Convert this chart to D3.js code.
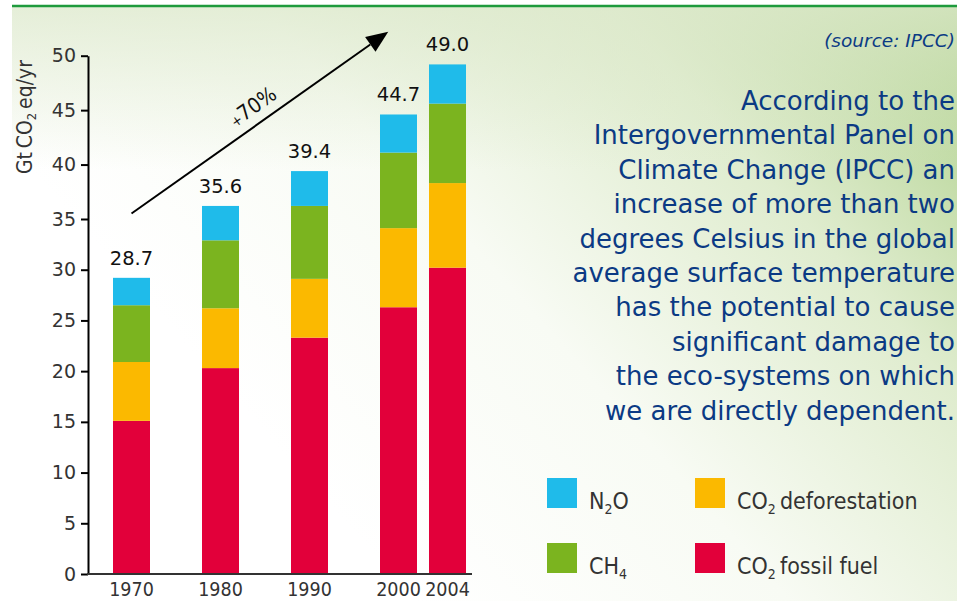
<!DOCTYPE html>
<html><head><meta charset="utf-8">
<script src="https://cdn.jsdelivr.net/npm/d3@7/dist/d3.min.js"></script>
<style>body{margin:0;background:#fff}svg{display:block}</style>
</head><body>
<svg id="chart" width="966" height="601"></svg>
<script>
// ---- data ----
const years = [1970, 1980, 1990, 2000, 2004];
const totalLabels = ["28.7", "35.6", "39.4", "44.7", "49.0"];
const co2Fossil = [15.1, 20.3, 23.3, 26.3, 30.2];
const co2Deforestation = [5.8, 5.9, 5.8, 7.8, 8.1];
const ch4 = [5.6, 6.7, 7.1, 7.0, 7.3];
const n2o = [2.7, 3.3, 3.2, 3.5, 3.6];
const yTicks = [0, 5, 10, 15, 20, 25, 30, 35, 40, 45, 50];
const arrowFrom = {year: 1970, value: 35.5};
const arrowTo = {year: 1998.85, value: 52.2};
const arrowLabel = "70%";
const sourceText = "(source: IPCC)";
const bodyLines = [
  "According to the",
  "Intergovernmental Panel on",
  "Climate Change (IPCC) an",
  "increase of more than two",
  "degrees Celsius in the global",
  "average surface temperature",
  "has the potential to cause",
  "significant damage to",
  "the eco-systems on which",
  "we are directly dependent."
];
const seriesKeys = ["co2Fossil", "co2Deforestation", "ch4", "n2o"];
const seriesColors = ["#e2003a", "#fbb900", "#7bb41f", "#1fbbea"];

// ---- build table ----
const table = years.map((yr, i) => ({
  year: yr, label: totalLabels[i],
  co2Fossil: co2Fossil[i], co2Deforestation: co2Deforestation[i], ch4: ch4[i], n2o: n2o[i]
}));
const stacked = d3.stack().keys(seriesKeys)(table);

const svg = d3.select("#chart");
const FONT = "'DejaVu Sans', sans-serif";
const FONT_C = "'DejaVu Sans Condensed', 'DejaVu Sans', sans-serif";

// ---- background ----
const defs = svg.append("defs");
const grad = defs.append("linearGradient").attr("id", "bg")
  .attr("gradientUnits", "userSpaceOnUse")
  .attr("x1", 360).attr("y1", 540).attr("x2", 957).attr("y2", 7);
grad.append("stop").attr("offset", 0).attr("stop-color", "#ffffff");
grad.append("stop").attr("offset", 0.35).attr("stop-color", "#f8fbf4");
grad.append("stop").attr("offset", 0.68).attr("stop-color", "#dfecce");
grad.append("stop").attr("offset", 1).attr("stop-color", "#aed08b");
const grad2 = defs.append("linearGradient").attr("id", "bgTop")
  .attr("gradientUnits", "userSpaceOnUse")
  .attr("x1", 0).attr("y1", 6).attr("x2", 0).attr("y2", 170);
grad2.append("stop").attr("offset", 0).attr("stop-color", "#dde9cc").attr("stop-opacity", 0.75);
grad2.append("stop").attr("offset", 1).attr("stop-color", "#dde9cc").attr("stop-opacity", 0);
svg.append("rect").attr("x", 12).attr("y", 6).attr("width", 945).attr("height", 595).attr("fill", "url(#bg)");
svg.append("rect").attr("x", 12).attr("y", 6).attr("width", 945).attr("height", 170).attr("fill", "url(#bgTop)");
svg.append("line").attr("x1", 12).attr("x2", 957).attr("y1", 6).attr("y2", 6)
  .attr("stroke", "#1e9a3c").attr("stroke-width", 2.5);

// ---- scales ----
const x = d3.scaleLinear().domain([1970, 2000, 2004]).range([131.5, 398.5, 447.5]);
const y = d3.scaleLinear().domain([0, 35, 50]).range([574, 219, 55.7]);
const barW = 37;

// ---- bars ----
svg.append("g").selectAll("g").data(stacked).join("g")
  .attr("fill", (d, i) => seriesColors[i])
  .selectAll("rect").data(d => d).join("rect")
  .attr("x", d => x(d.data.year) - barW / 2)
  .attr("width", barW)
  .attr("y", d => y(d[1]))
  .attr("height", d => y(d[0]) - y(d[1]));

// totals labels
const topLayer = stacked[stacked.length - 1];
svg.append("g").selectAll("text").data(topLayer).join("text")
  .attr("x", d => x(d.data.year))
  .attr("y", d => y(d[1]) - 13)
  .attr("text-anchor", "middle")
  .attr("font-family", FONT).attr("font-size", 19.5).attr("fill", "#111")
  .text(d => d.data.label);

// ---- y axis ----
const yAxis = svg.append("g").attr("transform", "translate(88,0)")
  .call(d3.axisLeft(y).tickValues(yTicks).tickSize(7).tickPadding(5).tickSizeOuter(0));
yAxis.select(".domain").attr("stroke", "#000").attr("stroke-width", 2);
yAxis.selectAll(".tick line").attr("stroke", "#000").attr("stroke-width", 2);
yAxis.selectAll(".tick text").attr("font-family", FONT).attr("font-size", 19).attr("fill", "#333");

// baseline
svg.append("line").attr("x1", 87).attr("x2", 472).attr("y1", y(0)).attr("y2", y(0))
  .attr("stroke", "#333").attr("stroke-width", 2);

// x labels
svg.append("g").selectAll("text").data(years).join("text")
  .attr("x", d => x(d)).attr("y", 596)
  .attr("text-anchor", "middle")
  .attr("font-family", FONT_C).attr("font-size", 19.5).attr("fill", "#333")
  .text(d => d);

// y label
const yl = svg.append("text").attr("transform", "translate(32,117) rotate(-90)")
  .attr("text-anchor", "middle").attr("font-family", FONT_C).attr("font-size", 21).attr("fill", "#333");
yl.append("tspan").text("Gt\u2009CO");
yl.append("tspan").attr("font-size", 13).attr("dy", 4).text("2");
yl.append("tspan").attr("dy", -4).text("\u2009eq/yr");

// ---- arrow ----
const ax1 = x(arrowFrom.year), ay1 = y(arrowFrom.value);
const ax2 = x(arrowTo.year), ay2 = y(arrowTo.value);
const ang = Math.atan2(ay2 - ay1, ax2 - ax1);
const headL = 22, headW = 9;
const bx = ax2 - headL * Math.cos(ang), by = ay2 - headL * Math.sin(ang);
svg.append("line").attr("x1", ax1).attr("y1", ay1).attr("x2", bx).attr("y2", by)
  .attr("stroke", "#000").attr("stroke-width", 2);
svg.append("path").attr("fill", "#000").attr("d",
  `M${ax2},${ay2}L${bx + headW * Math.sin(ang)},${by - headW * Math.cos(ang)}L${bx - headW * Math.sin(ang)},${by + headW * Math.cos(ang)}Z`);
const tFrac = 0.51;
const lx = ax1 + (ax2 - ax1) * tFrac + 10 * Math.sin(ang), ly = ay1 + (ay2 - ay1) * tFrac - 10 * Math.cos(ang);
const al = svg.append("text").attr("transform", `translate(${lx},${ly}) rotate(${ang * 180 / Math.PI})`)
  .attr("text-anchor", "middle").attr("font-family", FONT_C).attr("font-size", 21).attr("fill", "#111");
al.append("tspan").attr("font-size", 14).text("+");
al.append("tspan").text(arrowLabel);

// ---- right text ----
svg.append("text").attr("x", 955).attr("y", 46.5).attr("text-anchor", "end")
  .attr("font-family", FONT).attr("font-style", "italic").attr("font-size", 18.5).attr("fill", "#0b3a84")
  .text(sourceText);
svg.append("g").selectAll("text").data(bodyLines).join("text")
  .attr("x", 955).attr("y", (d, i) => 110 + i * 34.4)
  .attr("text-anchor", "end")
  .attr("font-family", FONT).attr("font-size", 26).attr("fill", "#0b3a84")
  .text(d => d);

// ---- legend ----
const legendItems = [
  {key: "n2o", parts: [["N", 0], ["2", 1], ["O", 0]]},
  {key: "co2Deforestation", parts: [["CO", 0], ["2", 1], ["\u2009deforestation", 0]]},
  {key: "ch4", parts: [["CH", 0], ["4", 1]]},
  {key: "co2Fossil", parts: [["CO", 0], ["2", 1], ["\u2009fossil fuel", 0]]}
];
const legPos = [[547, 478], [695, 478], [547, 543], [695, 543]];
const lg = svg.append("g").selectAll("g").data(legendItems).join("g")
  .attr("transform", (d, i) => `translate(${legPos[i][0]},${legPos[i][1]})`);
lg.append("rect").attr("width", 30).attr("height", 30)
  .attr("fill", d => seriesColors[seriesKeys.indexOf(d.key)]);
lg.each(function(d) {
  const tx = d3.select(this).append("text").attr("x", 42).attr("y", 30.5)
    .attr("font-family", FONT_C).attr("font-size", 23).attr("fill", "#333");
  let prevSub = 0;
  d.parts.forEach(([s, sub]) => {
    tx.append("tspan").attr("font-size", sub ? 14 : 23).attr("dy", sub ? 5 : (prevSub ? -5 : 0)).text(s);
    prevSub = sub;
  });
});
</script>
</body></html>
